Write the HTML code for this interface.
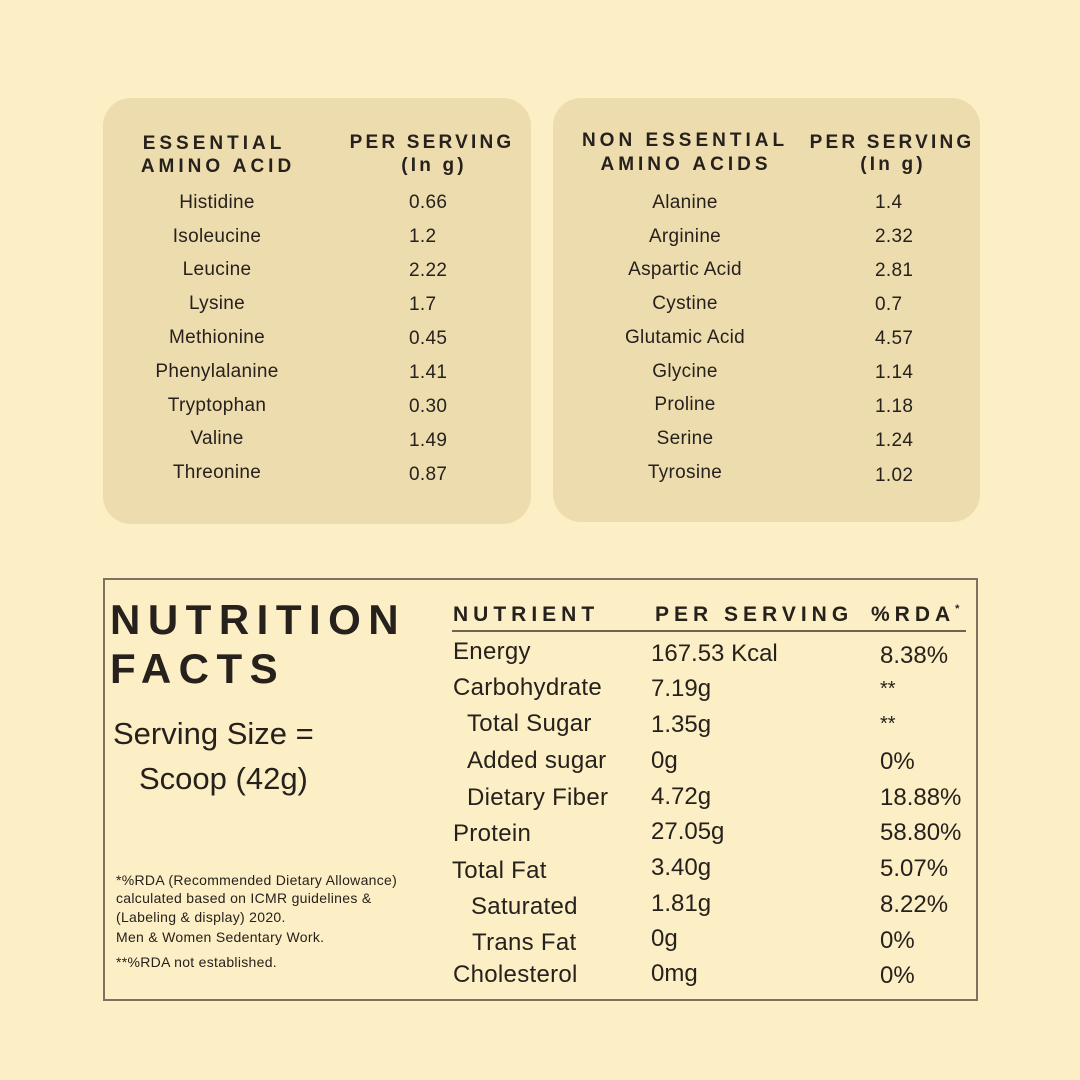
<!DOCTYPE html>
<html><head><meta charset="utf-8">
<style>
html,body{margin:0;padding:0;}
body{width:1080px;height:1080px;background:#FCEFC5;position:relative;overflow:hidden;font-family:"Liberation Sans",sans-serif;color:#26211c;}
.panel{position:absolute;background:#EDDCAE;border-radius:28px;}
.t{position:absolute;white-space:nowrap;height:40px;line-height:40px;}
.c{width:300px;text-align:center;}
.h{font-weight:bold;font-size:19px;letter-spacing:4px;}
.hp{letter-spacing:3.2px;}
.r{font-size:19px;letter-spacing:0.3px;}
.n{font-size:24px;letter-spacing:0.3px;}
.v{font-size:24px;letter-spacing:0;}
.nh{font-weight:bold;font-size:21px;letter-spacing:5px;}
.box{position:absolute;left:103px;top:578px;width:871px;height:419px;border:2px solid #7d7260;}
.big{font-weight:bold;font-size:42px;letter-spacing:7.5px;height:50px;line-height:50px;}
.fn{font-size:14px;letter-spacing:0.3px;height:20px;line-height:20px;}
</style></head><body>
<div class="panel" style="left:103px;top:98px;width:428px;height:426px;"></div>
<div class="panel" style="left:553px;top:98px;width:427px;height:424px;"></div>

<!-- left panel headers -->
<div class="t c h" style="left:64px;top:124px;">ESSENTIAL</div>
<div class="t c h" style="left:68px;top:147px;">AMINO ACID</div>
<div class="t c h hp" style="left:282px;top:123px;">PER SERVING</div>
<div class="t c h hp" style="left:284px;top:146px;">(In g)</div>

<div class="t c r" style="left:67px;top:183px;">Histidine</div>
<div class="t c r" style="left:67px;top:217px;">Isoleucine</div>
<div class="t c r" style="left:67px;top:250px;">Leucine</div>
<div class="t c r" style="left:67px;top:284px;">Lysine</div>
<div class="t c r" style="left:67px;top:318px;">Methionine</div>
<div class="t c r" style="left:67px;top:352px;">Phenylalanine</div>
<div class="t c r" style="left:67px;top:386px;">Tryptophan</div>
<div class="t c r" style="left:67px;top:419px;">Valine</div>
<div class="t c r" style="left:67px;top:453px;">Threonine</div>

<div class="t r" style="left:409px;top:183px;">0.66</div>
<div class="t r" style="left:409px;top:217px;">1.2</div>
<div class="t r" style="left:409px;top:251px;">2.22</div>
<div class="t r" style="left:409px;top:285px;">1.7</div>
<div class="t r" style="left:409px;top:319px;">0.45</div>
<div class="t r" style="left:409px;top:353px;">1.41</div>
<div class="t r" style="left:409px;top:387px;">0.30</div>
<div class="t r" style="left:409px;top:421px;">1.49</div>
<div class="t r" style="left:409px;top:455px;">0.87</div>

<!-- right panel headers -->
<div class="t c h" style="left:535px;top:121px;">NON ESSENTIAL</div>
<div class="t c h" style="left:536px;top:145px;">AMINO ACIDS</div>
<div class="t c h hp" style="left:742px;top:123px;">PER SERVING</div>
<div class="t c h hp" style="left:743px;top:145px;">(In g)</div>

<div class="t c r" style="left:535px;top:183px;">Alanine</div>
<div class="t c r" style="left:535px;top:217px;">Arginine</div>
<div class="t c r" style="left:535px;top:250px;">Aspartic Acid</div>
<div class="t c r" style="left:535px;top:284px;">Cystine</div>
<div class="t c r" style="left:535px;top:318px;">Glutamic Acid</div>
<div class="t c r" style="left:535px;top:352px;">Glycine</div>
<div class="t c r" style="left:535px;top:385px;">Proline</div>
<div class="t c r" style="left:535px;top:419px;">Serine</div>
<div class="t c r" style="left:535px;top:453px;">Tyrosine</div>

<div class="t r" style="left:875px;top:183px;">1.4</div>
<div class="t r" style="left:875px;top:217px;">2.32</div>
<div class="t r" style="left:875px;top:251px;">2.81</div>
<div class="t r" style="left:875px;top:285px;">0.7</div>
<div class="t r" style="left:875px;top:319px;">4.57</div>
<div class="t r" style="left:875px;top:353px;">1.14</div>
<div class="t r" style="left:875px;top:387px;">1.18</div>
<div class="t r" style="left:875px;top:421px;">1.24</div>
<div class="t r" style="left:875px;top:456px;">1.02</div>

<!-- nutrition box -->
<div class="box"></div>
<div class="t big" style="left:110px;top:595px;">NUTRITION</div>
<div class="t big" style="left:110px;top:644px;">FACTS</div>
<div class="t" style="left:113px;top:714px;font-size:31px;">Serving Size =</div>
<div class="t" style="left:139px;top:759px;font-size:31px;">Scoop (42g)</div>

<div class="t fn" style="left:116px;top:870px;">*%RDA (Recommended Dietary Allowance)</div>
<div class="t fn" style="left:116px;top:888px;">calculated based on ICMR guidelines &amp;</div>
<div class="t fn" style="left:116px;top:907px;">(Labeling &amp; display) 2020.</div>
<div class="t fn" style="left:116px;top:927px;">Men &amp; Women Sedentary Work.</div>
<div class="t fn" style="left:116px;top:952px;">**%RDA not established.</div>

<div class="t nh" style="left:453px;top:595px;">NUTRIENT</div>
<div class="t nh" style="left:655px;top:595px;">PER SERVING</div>
<div class="t nh" style="left:871px;top:595px;">%RDA<span style="font-size:11px;position:relative;top:-9px;letter-spacing:0;">*</span></div>
<div style="position:absolute;left:452px;top:630px;width:514px;height:2px;background:#6e6452;"></div>

<div class="t n" style="left:453px;top:632px;">Energy</div>
<div class="t n" style="left:453px;top:668px;">Carbohydrate</div>
<div class="t n" style="left:467px;top:704px;">Total Sugar</div>
<div class="t n" style="left:467px;top:741px;">Added sugar</div>
<div class="t n" style="left:467px;top:778px;">Dietary Fiber</div>
<div class="t n" style="left:453px;top:814px;">Protein</div>
<div class="t n" style="left:452px;top:851px;">Total Fat</div>
<div class="t n" style="left:471px;top:887px;">Saturated</div>
<div class="t n" style="left:472px;top:923px;">Trans Fat</div>
<div class="t n" style="left:453px;top:955px;">Cholesterol</div>

<div class="t v" style="left:651px;top:634px;">167.53 Kcal</div>
<div class="t v" style="left:651px;top:669px;">7.19g</div>
<div class="t v" style="left:651px;top:705px;">1.35g</div>
<div class="t v" style="left:651px;top:741px;">0g</div>
<div class="t v" style="left:651px;top:777px;">4.72g</div>
<div class="t v" style="left:651px;top:812px;">27.05g</div>
<div class="t v" style="left:651px;top:848px;">3.40g</div>
<div class="t v" style="left:651px;top:884px;">1.81g</div>
<div class="t v" style="left:651px;top:919px;">0g</div>
<div class="t v" style="left:651px;top:954px;">0mg</div>

<div class="t v" style="left:880px;top:636px;">8.38%</div>
<div class="t v" style="left:880px;top:669px;font-size:20px;">**</div>
<div class="t v" style="left:880px;top:704px;font-size:20px;">**</div>
<div class="t v" style="left:880px;top:742px;">0%</div>
<div class="t v" style="left:880px;top:778px;">18.88%</div>
<div class="t v" style="left:880px;top:813px;">58.80%</div>
<div class="t v" style="left:880px;top:849px;">5.07%</div>
<div class="t v" style="left:880px;top:885px;">8.22%</div>
<div class="t v" style="left:880px;top:921px;">0%</div>
<div class="t v" style="left:880px;top:956px;">0%</div>
</body></html>
